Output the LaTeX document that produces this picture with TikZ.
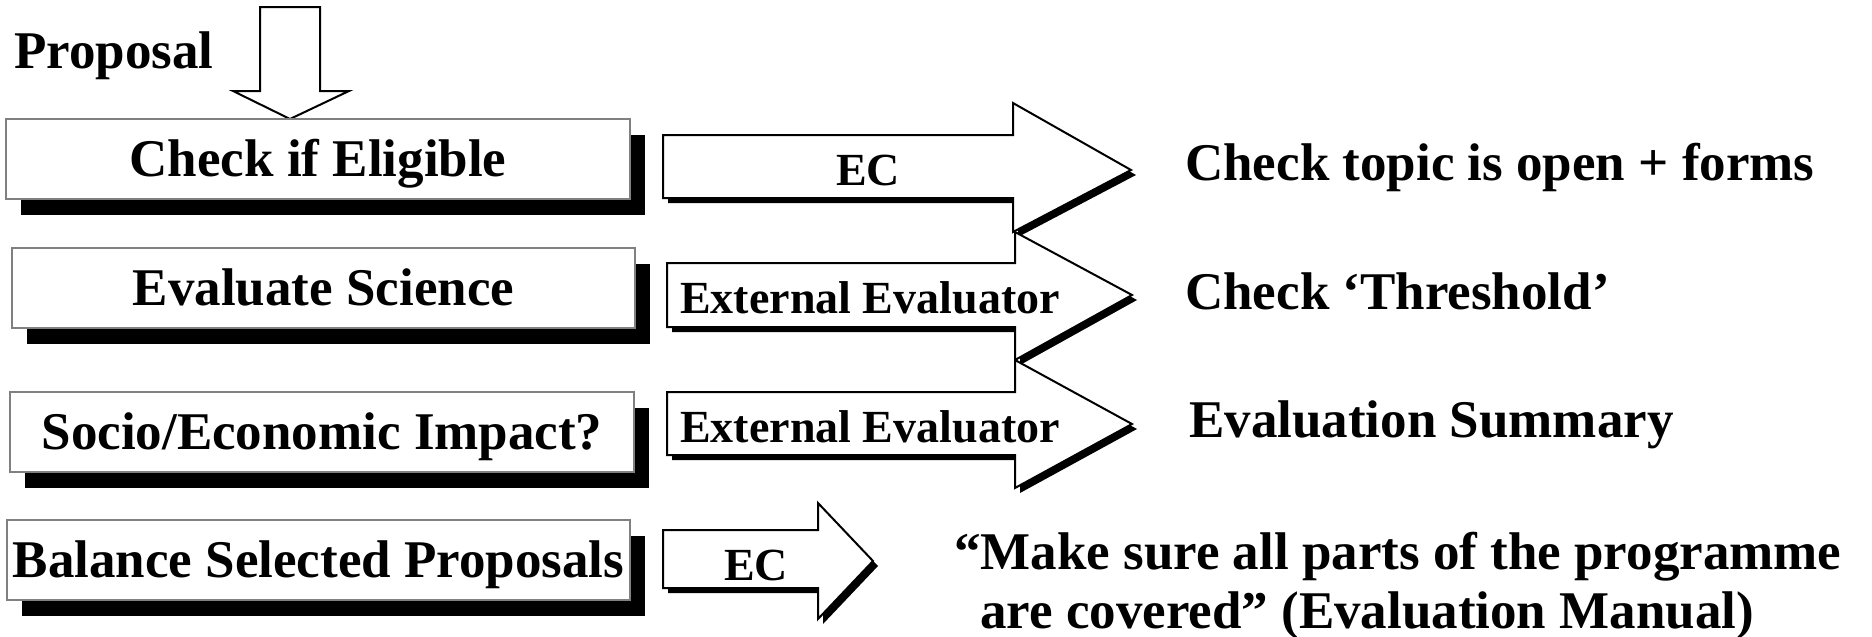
\documentclass[tikz,border=0pt]{standalone}
\usepackage{fontspec}
\setmainfont{Liberation Serif}
\usetikzlibrary{shadows}
\definecolor{boxgray}{RGB}{128,128,128}
\begin{document}
\begin{tikzpicture}[x=1pt,y=-1pt, line join=miter,
  big/.style={font=\fontsize{53}{60}\selectfont\bfseries},
  mid/.style={font=\fontsize{46}{52}\selectfont\bfseries},
  stepbox/.style={draw=boxgray, line width=1.5pt, fill=white,
    minimum height=80pt, text height=35pt, text depth=0pt, inner sep=0pt, big,
    drop shadow={shadow xshift=15pt, shadow yshift=-16pt, opacity=1, fill=black}},
  blockarrow/.style={draw=black, line width=2pt, fill=white},
  arrowshadow/.style={fill=black},
  lbl/.style={anchor=base, inner sep=0pt}]
\useasboundingbox (0,0) rectangle (1872,637);
\fill[white] (0,0) rectangle (1872,637);

% down arrow
\draw[blockarrow] (260,7) -- (320,7) -- (320,91) -- (349,91) -- (290,119) -- (233,91) -- (260,91) -- cycle;

% boxes
\node[stepbox, minimum width=624pt] (b1) at (318,159) {Check if Eligible};
\node[stepbox, minimum width=623pt] (b2) at (323.5,288) {Evaluate Science};
\node[stepbox, minimum width=624pt] (b3) at (322,432) {Socio/Economic Impact?};
\node[stepbox, minimum width=623pt] (b4) at (318.5,560) {Balance Selected Proposals};

\node[lbl, big, anchor=base west] (prop) at (14,68) {Proposal};

% block arrows
\begin{scope}[shift={(5,5)}]
\fill[arrowshadow] (663,135) -- (1013,135) -- (1013,103) -- (1131,170) -- (1013,232) -- (1013,198) -- (663,198) -- cycle;
\end{scope}
\draw[blockarrow] (663,135) -- (1013,135) -- (1013,103) -- (1131,170) -- (1013,232) -- (1013,198) -- (663,198) -- cycle;
\begin{scope}[shift={(5,5)}]
\fill[arrowshadow] (667,263) -- (1015,263) -- (1015,232) -- (1132,295) -- (1015,360) -- (1015,327) -- (667,327) -- cycle;
\end{scope}
\draw[blockarrow] (667,263) -- (1015,263) -- (1015,232) -- (1132,295) -- (1015,360) -- (1015,327) -- (667,327) -- cycle;
\begin{scope}[shift={(5,5)}]
\fill[arrowshadow] (667,392) -- (1015,392) -- (1015,360) -- (1132,424) -- (1015,488) -- (1015,455) -- (667,455) -- cycle;
\end{scope}
\draw[blockarrow] (667,392) -- (1015,392) -- (1015,360) -- (1132,424) -- (1015,488) -- (1015,455) -- (667,455) -- cycle;
\begin{scope}[shift={(5,5)}]
\fill[arrowshadow] (663,530) -- (818,530) -- (818,503) -- (873,561) -- (818,619) -- (818,588) -- (663,588) -- cycle;
\end{scope}
\draw[blockarrow] (663,530) -- (818,530) -- (818,503) -- (873,561) -- (818,619) -- (818,588) -- (663,588) -- cycle;

% arrow labels
\node[lbl, mid] (ec1) at (868,185) {EC};
\node[lbl, mid] (ee2) at (870,313) {External Evaluator};
\node[lbl, mid] (ee3) at (870,442) {External Evaluator};
\node[lbl, mid] (ec4) at (756,580) {EC};

% right texts
\node[lbl, big, anchor=base west] (r1) at (1185,180) {Check topic is open + forms};
\node[lbl, big, anchor=base west] (r2) at (1185,309) {Check ‘Threshold’};
\node[lbl, big, anchor=base west] (r3) at (1189,437) {Evaluation Summary};
\node[lbl, big, anchor=base west] (r4) at (954,569) {“Make sure all parts of the programme};
\node[lbl, big, anchor=base west] (r5) at (980,628) {are covered” (Evaluation Manual)};
\end{tikzpicture}
\end{document}
